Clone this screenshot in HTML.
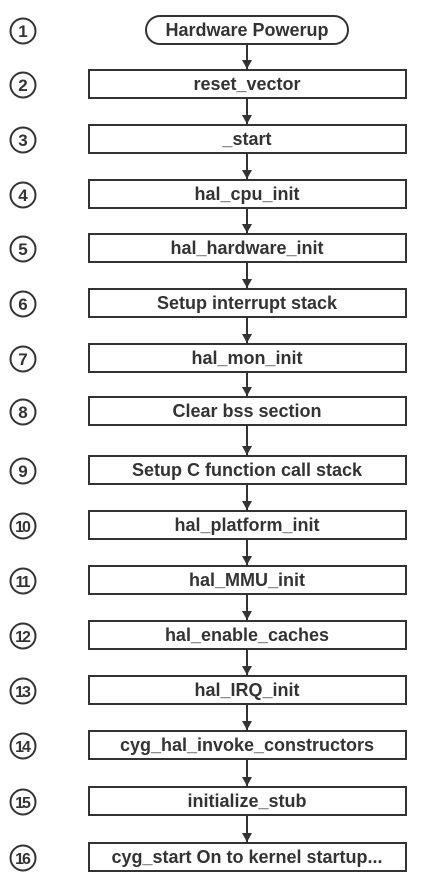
<!DOCTYPE html>
<html><head><meta charset="utf-8"><style>html,body{margin:0;padding:0;background:#fff;}svg{display:block}</style></head>
<body>
<svg width="423" height="872" viewBox="0 0 423 872" xmlns="http://www.w3.org/2000/svg" font-family="Liberation Sans, sans-serif" font-weight="bold">
<defs><marker id="a" markerWidth="10" markerHeight="10" refX="5" refY="9" orient="0" markerUnits="userSpaceOnUse"><path d="M0,0 L10,0 L5,9 z" fill="#333"/></marker></defs>
<g stroke="#333" stroke-width="2" fill="#fff">
<rect x="146" y="16" width="202" height="28" rx="14"/>
<rect x="89" y="70" width="317" height="28"/>
<rect x="89" y="125" width="317" height="28"/>
<rect x="89" y="180" width="317" height="28"/>
<rect x="89" y="234" width="317" height="28"/>
<rect x="89" y="289" width="317" height="28"/>
<rect x="89" y="344" width="317" height="28"/>
<rect x="89" y="397" width="317" height="28"/>
<rect x="89" y="456" width="317" height="28"/>
<rect x="89" y="511" width="317" height="28"/>
<rect x="89" y="566" width="317" height="28"/>
<rect x="89" y="621" width="317" height="28"/>
<rect x="89" y="676" width="317" height="28"/>
<rect x="89" y="731" width="317" height="28"/>
<rect x="89" y="787" width="317" height="28"/>
<rect x="89" y="843" width="317" height="28"/>
<circle cx="23" cy="31" r="12.5"/>
<circle cx="23" cy="85" r="12.5"/>
<circle cx="23" cy="140" r="12.5"/>
<circle cx="23" cy="195" r="12.5"/>
<circle cx="23" cy="249" r="12.5"/>
<circle cx="23" cy="304" r="12.5"/>
<circle cx="23" cy="359" r="12.5"/>
<circle cx="23" cy="412" r="12.5"/>
<circle cx="23" cy="471" r="12.5"/>
<circle cx="23" cy="526" r="12.5"/>
<circle cx="23" cy="581" r="12.5"/>
<circle cx="23" cy="636" r="12.5"/>
<circle cx="23" cy="691" r="12.5"/>
<circle cx="23" cy="746" r="12.5"/>
<circle cx="23" cy="802" r="12.5"/>
<circle cx="23" cy="858" r="12.5"/>
</g>
<g stroke="#333" stroke-width="2" marker-end="url(#a)">
<line x1="247" y1="44" x2="247" y2="69"/>
<line x1="247" y1="98" x2="247" y2="124"/>
<line x1="247" y1="153" x2="247" y2="179"/>
<line x1="247" y1="208" x2="247" y2="233"/>
<line x1="247" y1="262" x2="247" y2="288"/>
<line x1="247" y1="317" x2="247" y2="343"/>
<line x1="247" y1="372" x2="247" y2="396"/>
<line x1="247" y1="425" x2="247" y2="455"/>
<line x1="247" y1="484" x2="247" y2="510"/>
<line x1="247" y1="539" x2="247" y2="565"/>
<line x1="247" y1="594" x2="247" y2="620"/>
<line x1="247" y1="649" x2="247" y2="675"/>
<line x1="247" y1="704" x2="247" y2="730"/>
<line x1="247" y1="759" x2="247" y2="786"/>
<line x1="247" y1="815" x2="247" y2="842"/>
</g>
<g font-size="18" text-anchor="middle" fill="#333">
<text x="247" y="36">Hardware Powerup</text>
<text x="247" y="90">reset_vector</text>
<text x="247" y="145">_start</text>
<text x="247" y="200">hal_cpu_init</text>
<text x="247" y="254">hal_hardware_init</text>
<text x="247" y="309">Setup interrupt stack</text>
<text x="247" y="364">hal_mon_init</text>
<text x="247" y="417">Clear bss section</text>
<text x="247" y="476">Setup C function call stack</text>
<text x="247" y="531">hal_platform_init</text>
<text x="247" y="586">hal_MMU_init</text>
<text x="247" y="641">hal_enable_caches</text>
<text x="247" y="696">hal_IRQ_init</text>
<text x="247" y="751">cyg_hal_invoke_constructors</text>
<text x="247" y="807">initialize_stub</text>
<text x="247" y="863">cyg_start On to kernel startup...</text>
</g>
<g font-size="17" text-anchor="middle" fill="#333">
<text x="23" y="37">1</text>
<text x="23" y="91">2</text>
<text x="23" y="146">3</text>
<text x="23" y="201">4</text>
<text x="23" y="255">5</text>
<text x="23" y="310">6</text>
<text x="23" y="365">7</text>
<text x="23" y="418">8</text>
<text x="23" y="477">9</text>
</g>
<g font-size="16" text-anchor="middle" fill="#333" letter-spacing="-2">
<text x="22" y="532">10</text>
<text x="22" y="587">11</text>
<text x="22" y="642">12</text>
<text x="22" y="697">13</text>
<text x="22" y="752">14</text>
<text x="22" y="808">15</text>
<text x="22" y="864">16</text>
</g>
</svg>
</body></html>
